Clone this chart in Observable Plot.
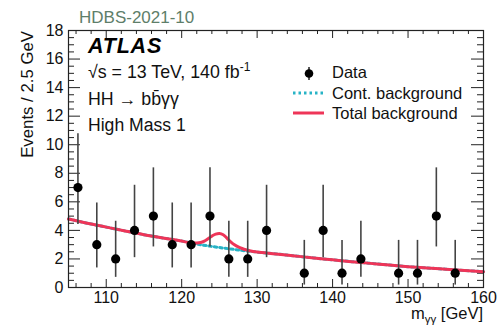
<!DOCTYPE html>
<html>
<head>
<meta charset="utf-8">
<script src="https://cdn.jsdelivr.net/npm/d3@7"></script>
<script src="https://cdn.jsdelivr.net/npm/@observablehq/plot@0.6"></script>
<style>
  html, body { margin: 0; padding: 0; background: #fff; }
  svg { display: block; }
</style>
</head>
<body>
<div id="chart"></div>
<script>
// ---- data ----
const binCenters = [106.25, 108.75, 111.25, 113.75, 116.25, 118.75, 121.25, 123.75, 126.25, 128.75, 131.25, 133.75, 136.25, 138.75, 141.25, 143.75, 146.25, 148.75, 151.25, 153.75, 156.25, 158.75];
const counts     = [7, 3, 2, 4, 5, 3, 3, 5, 2, 2, 4, 0, 1, 4, 1, 2, 0, 1, 1, 5, 1, 0];
const errLow     = [4.42, 1.37, 0.71, 2.09, 2.84, 1.37, 1.37, 2.84, 0.71, 0.71, 2.09, 0, 0.17, 2.09, 0.17, 0.71, 0, 0.17, 0.17, 2.84, 0.17, 0];
const errHigh    = [10.77, 5.92, 4.64, 7.16, 8.38, 5.92, 5.92, 8.38, 4.64, 4.64, 7.16, 0, 3.30, 7.16, 3.30, 4.64, 0, 3.30, 3.30, 8.38, 3.30, 0];

const contX = [105, 107.5, 110, 112.5, 115, 117.5, 120, 122.5, 125, 127.5, 130, 132.5, 135, 137.5, 140, 142.5, 145, 147.5, 150, 152.5, 155, 157.5, 160];
const contY = [4.8, 4.5, 4.23, 3.96, 3.7, 3.47, 3.25, 3.0, 2.8, 2.63, 2.48, 2.35, 2.21, 2.07, 1.94, 1.81, 1.69, 1.57, 1.46, 1.37, 1.28, 1.19, 1.11];

const totalX = [105, 107.5, 110, 112.5, 115, 117.5, 120, 121, 122, 122.5, 123, 123.5, 124, 124.5, 125, 125.5, 126, 126.5, 127, 127.5, 128, 128.5, 129, 130, 132.5, 135, 137.5, 140, 142.5, 145, 147.5, 150, 152.5, 155, 157.5, 160];
const totalY = [4.8, 4.5, 4.23, 3.96, 3.7, 3.47, 3.26, 3.13, 3.12, 3.15, 3.25, 3.42, 3.6, 3.74, 3.79, 3.7, 3.46, 3.2, 2.99, 2.84, 2.73, 2.64, 2.57, 2.48, 2.35, 2.21, 2.07, 1.94, 1.81, 1.69, 1.57, 1.46, 1.37, 1.28, 1.19, 1.11];

const xMajorTicks = [110, 120, 130, 140, 150, 160];
const yMajorTicks = [0, 2, 4, 6, 8, 10, 12, 14, 16, 18];

// ---- build tables ----
const points = binCenters.map((x, i) => ({x, n: counts[i], lo: errLow[i], hi: errHigh[i]})).filter(d => d.n > 0);
const cont = contX.map((x, i) => ({x, y: contY[i]}));
const total = totalX.map((x, i) => ({x, y: totalY[i]}));
const xMinor = d3.range(106, 160.01, 2).filter(v => v % 10 !== 0);
const yMinor = d3.range(0, 18.01, 0.5).filter(v => v % 2 !== 0);

const W = 497, H = 327;
const mt = 30, mb = 40, ml = 68, mr = 14;
const iH = H - mt - mb, iW = W - ml - mr;
const RED = "#ee3558", CYAN = "#27b3c6";

const svg = Plot.plot({
  width: W, height: H,
  marginTop: mt, marginBottom: mb, marginLeft: ml, marginRight: mr,
  style: {fontFamily: "'Liberation Sans', Arial, Helvetica, sans-serif", background: "white", overflow: "visible"},
  x: {domain: [105, 160]},
  y: {domain: [0, 18]},
  marks: [
    // inward ticks on all four sides
    Plot.tickX(xMinor, {x: d => d, insetTop: iH - 4, stroke: "#222", strokeWidth: 1}),
    Plot.tickX(xMajorTicks, {x: d => d, insetTop: iH - 8, stroke: "#222", strokeWidth: 1}),
    Plot.tickX(xMinor, {x: d => d, insetBottom: iH - 4, stroke: "#222", strokeWidth: 1}),
    Plot.tickX(xMajorTicks, {x: d => d, insetBottom: iH - 8, stroke: "#222", strokeWidth: 1}),
    Plot.tickY(yMinor, {y: d => d, insetRight: iW - 6, stroke: "#222", strokeWidth: 1}),
    Plot.tickY(yMajorTicks, {y: d => d, insetRight: iW - 12, stroke: "#222", strokeWidth: 1}),
    Plot.tickY(yMinor, {y: d => d, insetLeft: iW - 6, stroke: "#222", strokeWidth: 1}),
    Plot.tickY(yMajorTicks, {y: d => d, insetLeft: iW - 12, stroke: "#222", strokeWidth: 1}),
    Plot.axisX(xMajorTicks, {tickSize: 0, tickPadding: 4, fontSize: 16, fill: "#111", label: null}),
    Plot.axisY(yMajorTicks, {tickSize: 0, tickPadding: 5, fontSize: 16, fill: "#111", label: null}),
    // curves
    Plot.line(cont, {x: "x", y: "y", stroke: CYAN, strokeWidth: 3, strokeDasharray: "2.5,3", curve: "catmull-rom"}),
    Plot.line(total, {x: "x", y: "y", stroke: RED, strokeWidth: 3, curve: "catmull-rom"}),
    // data
    Plot.ruleX(points, {x: "x", y1: "lo", y2: "hi", stroke: "#444", strokeWidth: 1.6}),
    Plot.dot(points, {x: "x", y: "n", r: 4.6, fill: "black", stroke: "none"}),
    Plot.frame({stroke: "#222", strokeWidth: 1.2})
  ]
});

const s = d3.select(svg);
const font = "'Liberation Sans', Arial, Helvetica, sans-serif";
const g = s.append("g").attr("text-anchor", "start").attr("font-family", font).attr("fill", "#111");

// y label
g.append("text").attr("transform", "translate(33,31) rotate(-90)")
  .attr("text-anchor", "end").attr("font-size", 16.8)
  .text("Events / 2.5 GeV");

// x label
const xl = g.append("text").attr("x", 483).attr("y", 319).attr("text-anchor", "end").attr("font-size", 16.5);
xl.append("tspan").text("m");
xl.append("tspan").attr("font-size", 11.5).attr("dy", 4).text("γγ");
xl.append("tspan").attr("dy", -4).text(" [GeV]");

// reference tag
g.append("text").attr("x", 79).attr("y", 23).attr("font-size", 17)
  .attr("fill", "#5e7e69").text("HDBS-2021-10");

// ATLAS block
g.append("text").attr("x", 88).attr("y", 53).attr("font-size", 21.5).attr("font-weight", "bold")
  .attr("font-style", "italic").attr("letter-spacing", 0.8).attr("fill", "#000").text("ATLAS");
const t1 = g.append("text").attr("x", 88).attr("y", 78).attr("font-size", 17.8);
t1.append("tspan").text("√s = 13 TeV, 140 fb");
t1.append("tspan").attr("font-size", 12).attr("dy", -7).text("-1");
g.append("text").attr("x", 88).attr("y", 105).attr("font-size", 17.8).text("HH → bb̄γγ");
g.append("text").attr("x", 88).attr("y", 131).attr("font-size", 17.6).text("High Mass 1");

// legend
const lg = g.append("g").attr("font-size", 16.5);
lg.append("line").attr("x1", 309).attr("x2", 309).attr("y1", 67).attr("y2", 80).attr("stroke", "#222").attr("stroke-width", 1.5);
lg.append("circle").attr("cx", 309).attr("cy", 73.5).attr("r", 4.3).attr("fill", "#000");
lg.append("text").attr("x", 332).attr("y", 78).text("Data");
lg.append("line").attr("x1", 293).attr("x2", 324).attr("y1", 93).attr("y2", 93).attr("stroke", CYAN).attr("stroke-width", 3).attr("stroke-dasharray", "2.5,3");
lg.append("text").attr("x", 332).attr("y", 98.5).text("Cont. background");
lg.append("line").attr("x1", 293).attr("x2", 324).attr("y1", 113).attr("y2", 113).attr("stroke", RED).attr("stroke-width", 3);
lg.append("text").attr("x", 332).attr("y", 118.5).text("Total background");

document.getElementById("chart").appendChild(svg);
</script>
</body>
</html>
